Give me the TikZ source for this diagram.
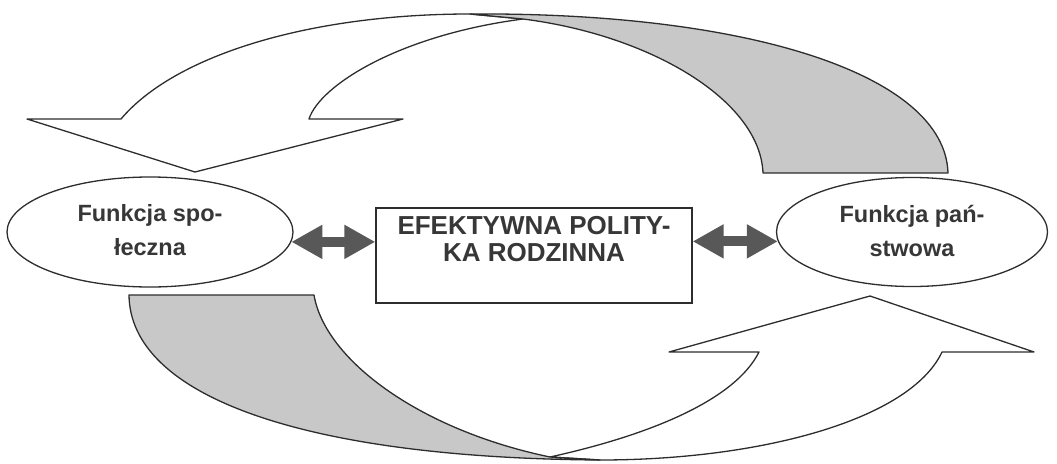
\documentclass[tikz,border=0pt]{standalone}
\usepackage{fontspec}
\setmainfont{Liberation Sans}
\usetikzlibrary{shapes.geometric, arrows.meta}
\definecolor{ribbongray}{RGB}{200,200,200}
\definecolor{arrowgray}{RGB}{88,88,88}
\definecolor{inkgray}{RGB}{45,45,45}
\definecolor{textgray}{RGB}{55,55,55}

\begin{document}
\begin{tikzpicture}[x=1pt, y=-1pt,
        ribbon/.style={draw=inkgray, line width=1.3pt, line join=round},
        func/.style={ellipse, draw=inkgray, line width=1.3pt, fill=white, inner sep=0pt, align=center, text=textgray, font=\fontsize{23.5}{31}\selectfont\bfseries},
        polbox/.style={rectangle, draw=inkgray, line width=1.3pt, fill=white, minimum width=316pt, minimum height=95pt, inner sep=0pt, text=textgray, font=\fontsize{26}{27}\selectfont\bfseries},
        both/.style={draw=arrowgray, line width=10pt, {Triangle[length=31pt,width=32pt]}-{Triangle[length=31pt,width=32pt]}}]
        \useasboundingbox (0,0) rectangle (1057,463);

        % upper ribbon
        \filldraw[ribbon, fill=white] (121,119) .. controls (175,55) and (310,14) .. (470,14) -- (523,19)
            .. controls (400,35) and (320,85) .. (309,119) -- (403,119) -- (195,172) -- (27,119) -- cycle;
        \filldraw[ribbon, fill=ribbongray] (470,14) .. controls (750,12) and (945,75) .. (948,173) -- (763,173)
            .. controls (760,100) and (650,35) .. (523,19) -- cycle;

        % lower ribbon
        \filldraw[ribbon, fill=white] (550,457) .. controls (650,435) and (735,400) .. (759,352) -- (669,352) -- (870,296)
            -- (1034,352) -- (942,352) .. controls (910,420) and (760,460) .. (600,460) -- cycle;
        \filldraw[ribbon, fill=ribbongray] (129,295) -- (314,295) .. controls (325,360) and (420,430) .. (550,457)
            -- (600,460) .. controls (300,458) and (130,395) .. (129,295) -- cycle;

        \node[func, minimum width=286pt, minimum height=110pt] (soc) at (150,232) {\raisebox{3pt}[\height][\depth]{Funkcja spo-}\\łeczna};
        \node[func, minimum width=271pt, minimum height=109pt] (sta) at (912,232) {\raisebox{3pt}[\height][\depth]{Funkcja pań-}\\stwowa};
        \node[polbox] (pol) at (534,255.5) {\raisebox{13pt}[\height][\depth]{\begin{tabular}{@{}c@{}}EFEKTYWNA POLITY-\\KA RODZINNA\end{tabular}}};

        \draw[both] (soc.-4) -- (pol.west |- soc.-4);
        \draw[both] (pol.east |- sta.184) -- (sta.184);
    \end{tikzpicture}
\end{document}
